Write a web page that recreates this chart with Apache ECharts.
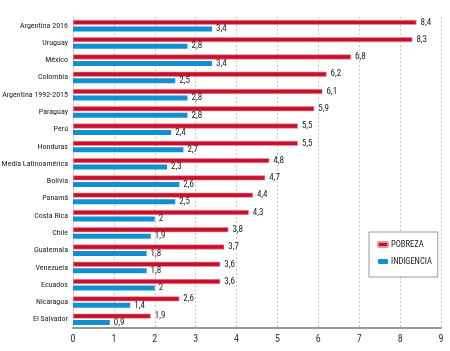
<!DOCTYPE html>
<html><head><meta charset="utf-8">
<script src="https://cdn.jsdelivr.net/npm/echarts@6/dist/echarts.min.js"></script>
<style>html,body{margin:0;padding:0;background:#fff}#c{width:450px;height:351px}</style>
</head><body><div id="c"></div>
<script>
var categories = ["Argentina 2016","Uruguay","México","Colombia","Argentina 1992-2015","Paraguay","Perú","Honduras","Media Latinoamérica","Bolivia","Panamá","Costa Rica","Chile","Guatemala","Venezuela","Ecuados","Nicaragua","El Salvador"];
var pobreza = [8.4,8.3,6.8,6.2,6.1,5.9,5.5,5.5,4.8,4.7,4.4,4.3,3.8,3.7,3.6,3.6,2.6,1.9];
var indigencia = [3.4,2.8,3.4,2.5,2.8,2.8,2.4,2.7,2.3,2.6,2.5,2,1.9,1.8,1.8,2,1.4,0.9];
var xTicks = [0,1,2,3,4,5,6,7,8,9];
var FONT = '"Roboto Condensed", "DejaVu Sans Condensed", sans-serif';
var chart = echarts.init(document.getElementById('c'));
function fmt(p){ return String(p.value).replace('.', ','); }
chart.setOption({
  animation:false,
  textStyle:{fontFamily:FONT},
  grid:{left:73,right:9,top:17,bottom:23,containLabel:false,outerBoundsMode:'none'},
  legend:{
    orient:'vertical', left:369, top:232,
    data:['POBREZA','INDIGENCIA'],
    borderColor:'#999', borderWidth:1, padding:[8,6,11,8],
    itemWidth:10, itemHeight:5, itemGap:8,
    backgroundColor:'#fff',
    textStyle:{fontFamily:FONT,fontSize:8.5,color:'#222',padding:[0,0,0,-2]}
  },
  xAxis:{
    type:'value', min:xTicks[0], max:xTicks[xTicks.length-1], interval:1,
    axisLine:{show:true,lineStyle:{color:'#999',width:2}},
    axisTick:{show:false},
    axisLabel:{fontFamily:FONT,fontSize:10,color:'#333',margin:6},
    splitLine:{show:true,lineStyle:{color:'#c8c8c8',type:[2,2],width:1}}
  },
  yAxis:{
    type:'category', data:categories, inverse:true,
    axisLine:{show:true,lineStyle:{color:'#ccc',width:1}},
    axisTick:{show:false},
    axisLabel:{fontFamily:FONT,fontSize:8,color:'#222',margin:5}
  },
  series:[
    {name:'POBREZA',type:'bar',data:pobreza,barWidth:5,barGap:'30%',
     itemStyle:{color:'#c8102e',borderColor:'#ee8f9a',borderWidth:0.6},
     label:{show:true,position:'right',distance:4,formatter:fmt,fontFamily:FONT,fontSize:9,color:'#222'}},
    {name:'INDIGENCIA',type:'bar',data:indigencia,barWidth:5,
     itemStyle:{color:'#1190cf'},
     label:{show:true,position:'right',distance:4,formatter:fmt,fontFamily:FONT,fontSize:9,color:'#222'}}
  ]
});
</script></body></html>
